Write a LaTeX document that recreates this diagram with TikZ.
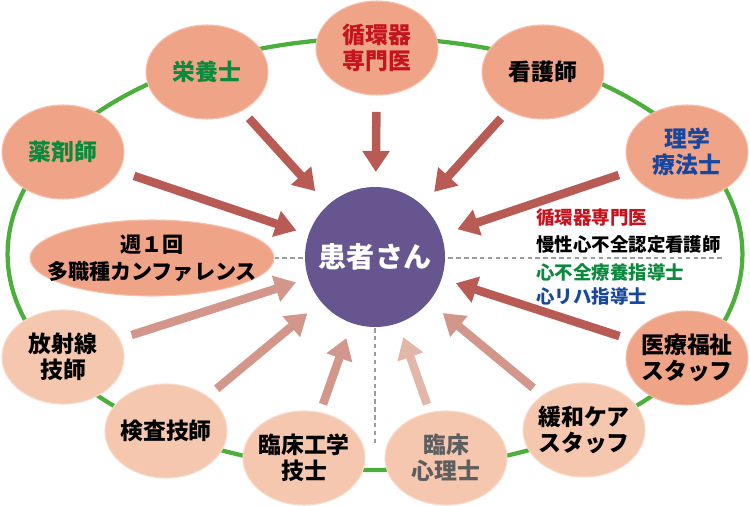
\documentclass[tikz,border=0pt]{standalone}
\usepackage{fontspec}
\setmainfont{Noto Sans CJK JP}
\usetikzlibrary{shapes.geometric,arrows.meta,backgrounds}
\definecolor{nodeD}{HTML}{F0A487}
\definecolor{nodeL}{HTML}{F6C7AF}
\definecolor{patientC}{HTML}{67558F}
\definecolor{ringG}{HTML}{4CAF3C}
\definecolor{arrD}{HTML}{B95B55}
\definecolor{arrM}{HTML}{D2968B}
\definecolor{arrL}{HTML}{E2B7A9}
\definecolor{txtG}{HTML}{0B8A3D}
\definecolor{txtR}{HTML}{C5141F}
\definecolor{txtB}{HTML}{17479E}
\definecolor{txtGray}{HTML}{5E5E5E}
\definecolor{dashC}{HTML}{9C9C9C}
\begin{document}
\begin{tikzpicture}[x=0.02cm,y=-0.02cm,
  dnode/.style={ellipse, fill=nodeD, draw=nodeD!70!white, line width=0.6pt, minimum width=2.44cm, minimum height=1.88cm, inner sep=-8pt, align=center, font=\fontsize{13}{15}\selectfont\bfseries},
  lnode/.style={dnode, fill=nodeL, draw=nodeL!70!white},
  arr/.style={line width=0.17cm, -{Triangle[length=0.42cm,width=0.52cm]}},
  rtext/.style={anchor=west, inner sep=0pt, font=\fontsize{10.5}{12}\selectfont\bfseries},
  dashln/.style={draw=dashC, line width=0.9pt, dash pattern=on 2.5pt off 2pt}
]
\useasboundingbox (0,0) rectangle (750,506);

% nodes
\node[circle, fill=patientC, minimum size=2.8cm, inner sep=0pt, text=white, font=\fontsize{16}{18}\selectfont\bfseries] (pat) at (375,257) {患者さん};
\node[dnode, text=txtR] (junkan) at (377,48) {循環器\\専門医};
\node[dnode, text=txtG] (eiyo) at (207,72) {栄養士};
\node[dnode] (kango) at (543,72) {看護師};
\node[dnode, text=txtG] (yaku) at (63,152) {薬剤師};
\node[dnode, text=txtB] (rigaku) at (687,152) {理学\\療法士};
\node[ellipse, fill=nodeD, draw=nodeD!70!white, line width=0.6pt, minimum width=4.88cm, minimum height=1.52cm, inner sep=0pt] (conf) at (152,258) {};
\node[align=center, inner sep=0pt, font=\fontsize{12}{15.5}\selectfont\bfseries] (conftext) at (conf.center) {週１回\\多職種カンファレンス};
\node[dnode] (iryo) at (687,358) {医療福祉\\スタッフ};
\node[lnode] (hosha) at (63,357) {放射線\\技師};
\node[lnode] (kensa) at (166,431) {検査技師};
\node[lnode] (rinko) at (304,458) {臨床工学\\技士};
\node[lnode, text=txtGray] (rinshin) at (446,458) {臨床\\心理士};
\node[lnode] (kanwa) at (584,430) {緩和ケア\\スタッフ};

% right-side qualification list
\node[rtext, text=txtR] (q1) at (536,218) {循環器専門医};
\node[rtext, text=black] (q2) at (536,245) {慢性心不全認定看護師};
\node[rtext, text=txtG] (q3) at (536,272) {心不全療養指導士};
\node[rtext, text=txtB] (q4) at (536,296) {心リハ指導士};

\coordinate (dashR) at (722,258);
\coordinate (dashB) at (375,446);

\begin{pgfonlayer}{background}
  \draw[ringG, line width=0.085cm] (375,254) ellipse [x radius=7.35cm, y radius=4.32cm];
  \draw[dashln] (conf.east) -- (dashR);
  \draw[dashln] (pat.center) -- (dashB);
\end{pgfonlayer}

% arrows
\draw[arr, draw=arrD, shorten <=1.25cm, shorten >=1.78cm] (eiyo.center) -- (pat.center);
\draw[arr, draw=arrD, shorten <=1.5cm, shorten >=1.66cm] (yaku.center) -- (pat.center);
\draw[arr, draw=arrD, shorten <=1.28cm, shorten >=1.7cm] (junkan.center) -- (pat.center);
\draw[arr, draw=arrD, shorten <=1.25cm, shorten >=1.76cm] (kango.center) -- (pat.center);
\draw[arr, draw=arrD, shorten <=1.44cm, shorten >=1.74cm] (rigaku.center) -- (pat.center);
\draw[arr, draw=arrD, shorten <=1.42cm, shorten >=1.7cm] (iryo.center) -- (pat.center);
\draw[arr, draw=arrM, shorten <=1.32cm, shorten >=1.76cm] (kanwa.center) -- (pat.center);
\draw[arr, draw=arrL, shorten <=1.14cm, shorten >=1.7cm] (rinshin.center) -- (pat.center);
\draw[arr, draw=arrM, shorten <=1.14cm, shorten >=1.72cm] (rinko.center) -- (pat.center);
\draw[arr, draw=arrM, shorten <=1.32cm, shorten >=1.76cm] (kensa.center) -- (pat.center);
\draw[arr, draw=arrM, shorten <=1.44cm, shorten >=1.66cm] (hosha.center) -- (pat.center);
\end{tikzpicture}
\end{document}
